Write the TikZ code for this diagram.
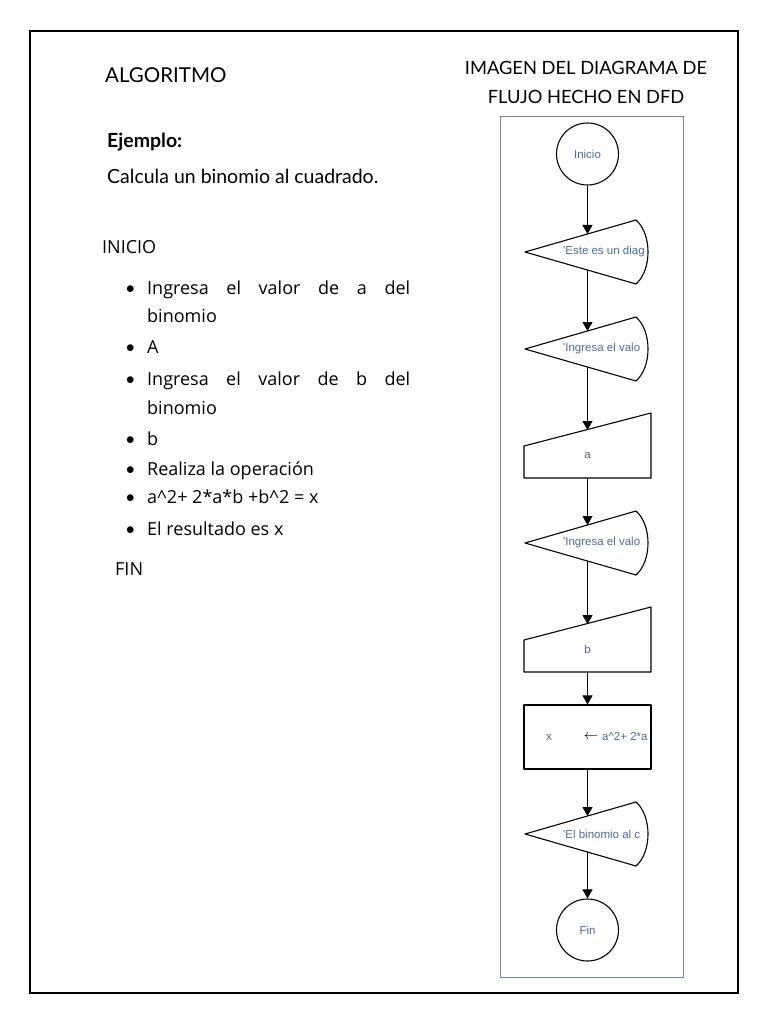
\documentclass[tikz,border=0pt]{standalone}
\usepackage{fontspec}
\setmainfont{Lato}
\newfontfamily\listfont{Open Sans}
\newfontfamily\dfdfont{Liberation Sans}
\usetikzlibrary{arrows.meta}

\definecolor{dfdtext}{HTML}{4A6A9E}
\definecolor{dfdframe}{HTML}{6F86A8}

\newcommand{\itembullet}{\makebox[22pt][l]{\rmfamily\textbullet}}

\tikzset{
  txt/.style={anchor=base west, inner sep=0pt, font=\listfont\fontsize{18}{20}\selectfont},
  dfd/.style={font=\dfdfont\fontsize{11.5}{13}\selectfont, text=dfdtext, inner sep=0pt},
  outline/.style={line width=1.1pt, line join=round},
  term/.style={circle, draw, outline, minimum size=62pt},
  flow/.style={-{Triangle[width=10pt,length=9pt]}, line width=1pt}
}

\begin{document}
\begin{tikzpicture}[x=1pt, y=-1pt]

\useasboundingbox (0,0) rectangle (768,1024);

% -----------------------------
% Page frames
% -----------------------------
\draw[line width=1.3pt] (30,31) rectangle (738,993);   % outer frame
\draw[dfdframe, line width=1pt] (500,117) rectangle (683,977); % DFD picture

% -----------------------------
% Left column: algorithm
% -----------------------------
\node[txt, font=\fontsize{20.5}{24}\selectfont] (algo) at (105,83) {ALGORITMO};
\node[txt, font=\bfseries\fontsize{19.5}{22}\selectfont] (ejemplo) at (107,148) {Ejemplo:};
\node[txt, font=\fontsize{19.5}{22}\selectfont] (calcula) at (107,184) {Calcula un binomio al cuadrado.};
\node[txt] (inicioTxt) at (102,253) {INICIO};

\node[txt] (item1)  at (125,294) {\itembullet\makebox[263pt][s]{Ingresa el valor de a del}};
\node[txt] (item1b) at (147,322) {binomio};
\node[txt] (item2)  at (125,353) {\itembullet A};
\node[txt] (item3)  at (125,385) {\itembullet\makebox[263pt][s]{Ingresa el valor de b del}};
\node[txt] (item3b) at (147,414) {binomio};
\node[txt] (item4)  at (125,445) {\itembullet b};
\node[txt] (item5)  at (125,475) {\itembullet Realiza la operación};
\node[txt] (item6)  at (125,503) {\itembullet a\textasciicircum2+ 2*a*b +b\textasciicircum2 = x};
\node[txt] (item7)  at (125,535) {\itembullet El resultado es x};
\node[txt] (finTxt) at (115,575) {FIN};

% -----------------------------
% Right column: DFD flowchart
% -----------------------------
\node[anchor=base, inner sep=0pt, font=\fontsize{18.3}{22}\selectfont] (head1) at (586,75) {IMAGEN DEL DIAGRAMA DE};
\node[anchor=base, inner sep=0pt, font=\fontsize{18.3}{22}\selectfont] (head2) at (586,104) {FLUJO HECHO EN DFD};

\node[term, dfd] (inicio) at (587.5,154) {Inicio};
\node[term, dfd] (fin) at (587.5,930) {Fin};

% output shapes (text cut by the right side)
\foreach \n/\y/\t in {msg1/252/{'Este es un diag}, msg2/349/{'Ingresa el valo},
                      msg3/543/{'Ingresa el valo}, msg4/834/{'El binomio al c}} {
  \draw[outline] (525,\y) -- (636,\y-32)
      .. controls (652,\y-18) and (652,\y+18) .. (636,\y+32) -- cycle;
  \begin{scope}
    \clip (525,\y) -- (636,\y-32)
      .. controls (652,\y-18) and (652,\y+18) .. (636,\y+32) -- cycle;
    \node[dfd, anchor=west] (\n) at (563,\y) {\t};
  \end{scope}
  \coordinate (\n-in) at (587.5,\y-18);   % top side
  \coordinate (\n-out) at (587.5,\y+18);  % bottom side
}

% manual inputs
\foreach \n/\y/\t in {inA/478/a, inB/672/b} {
  \draw[outline] (524,\y) -- (524,\y-32) -- (651,\y-65) -- (651,\y) -- cycle;
  \node[dfd] (\n) at (587.5,\y-23) {\t};
  \coordinate (\n-in) at (587.5,\y-48);
  \coordinate (\n-out) at (587.5,\y);
}

% assignment
\node[draw, outline, minimum width=127pt, minimum height=64pt] (calc) at (587.5,737) {};
\node[dfd] (calcx) at (549,737) {x};
\node[inner sep=0pt, font=\fontsize{15}{16}\selectfont] (calcarrow) at (591,737) {$\leftarrow$};
\begin{scope}
  \clip (calc.south west) rectangle (calc.north east);
  \node[dfd, anchor=west] (calcexpr) at (602,737) {a\textasciicircum2+ 2*a};
\end{scope}

% connectors
\draw[flow] (inicio) -- (msg1-in);
\draw[flow] (msg1-out) -- (msg2-in);
\draw[flow] (msg2-out) -- (inA-in);
\draw[flow] (inA-out) -- (msg3-in);
\draw[flow] (msg3-out) -- (inB-in);
\draw[flow] (inB-out) -- (calc);
\draw[flow] (calc) -- (msg4-in);
\draw[flow] (msg4-out) -- (fin);

\end{tikzpicture}
\end{document}
